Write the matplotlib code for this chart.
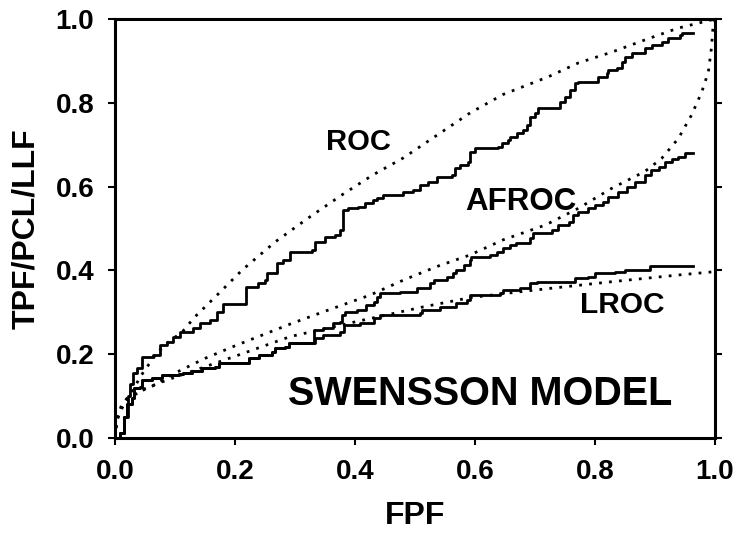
import matplotlib
matplotlib.use("Agg")
import matplotlib.pyplot as plt

plt.rcParams['font.family'] = ['Liberation Sans', 'DejaVu Sans']
plt.rcParams['font.weight'] = 'bold'

# empirical ROC (staircase, step at each x)
roc_x = [0, 0.008, 0.015, 0.022, 0.025, 0.03, 0.037, 0.045, 0.063, 0.075, 0.087, 0.097,
         0.108, 0.13, 0.142, 0.158, 0.17, 0.18, 0.218, 0.238, 0.25, 0.253, 0.27, 0.28,
         0.292, 0.328, 0.333, 0.35, 0.367, 0.375, 0.38, 0.388, 0.405, 0.417, 0.43, 0.437,
         0.447, 0.48, 0.497, 0.508, 0.522, 0.537, 0.562, 0.567, 0.575, 0.588, 0.592, 0.60,
         0.638, 0.645, 0.655, 0.658, 0.67, 0.68, 0.687, 0.692, 0.70, 0.705, 0.742, 0.75,
         0.758, 0.767, 0.772, 0.805, 0.82, 0.822, 0.837, 0.845, 0.85, 0.862, 0.883, 0.895,
         0.912, 0.922, 0.942, 0.945, 0.963]
roc_y = [0, 0.012, 0.05, 0.10, 0.13, 0.155, 0.167, 0.193, 0.198, 0.222, 0.229, 0.241,
         0.253, 0.262, 0.274, 0.282, 0.30, 0.32, 0.36, 0.37, 0.377, 0.394, 0.418, 0.425,
         0.444, 0.449, 0.468, 0.48, 0.484, 0.496, 0.544, 0.549, 0.551, 0.561, 0.568, 0.573,
         0.58, 0.587, 0.592, 0.604, 0.611, 0.623, 0.628, 0.644, 0.652, 0.659, 0.683, 0.692,
         0.695, 0.704, 0.711, 0.718, 0.727, 0.735, 0.747, 0.766, 0.776, 0.788, 0.802, 0.814,
         0.831, 0.847, 0.85, 0.862, 0.871, 0.878, 0.883, 0.897, 0.909, 0.919, 0.931, 0.938,
         0.945, 0.955, 0.962, 0.967, 0.967]

# AFROC and LROC share the low-FPF part
low_x = [0, 0.008, 0.015, 0.02, 0.028, 0.031, 0.042, 0.045, 0.062, 0.078, 0.106, 0.114,
         0.128, 0.145, 0.167, 0.173, 0.223, 0.24, 0.262, 0.267, 0.284, 0.29]
low_y = [0, 0.012, 0.05, 0.08, 0.095, 0.119, 0.122, 0.138, 0.144, 0.150, 0.152, 0.156,
         0.16, 0.166, 0.17, 0.178, 0.19, 0.198, 0.206, 0.214, 0.218, 0.227]

afroc_x = [0.331, 0.347, 0.364, 0.375, 0.378, 0.383, 0.403, 0.419, 0.431, 0.436, 0.442,
           0.475, 0.503, 0.525, 0.531, 0.553, 0.564, 0.569, 0.581, 0.592, 0.594, 0.625,
           0.636, 0.647, 0.658, 0.669, 0.692, 0.697, 0.728, 0.739, 0.756, 0.764, 0.772,
           0.789, 0.8, 0.814, 0.822, 0.839, 0.853, 0.867, 0.883, 0.894, 0.906, 0.917,
           0.928, 0.939, 0.95, 0.964]
afroc_y = [0.258, 0.262, 0.274, 0.278, 0.294, 0.301, 0.305, 0.317, 0.325, 0.337, 0.345,
           0.349, 0.357, 0.369, 0.377, 0.385, 0.393, 0.401, 0.413, 0.425, 0.433, 0.437,
           0.445, 0.453, 0.461, 0.465, 0.477, 0.489, 0.496, 0.508, 0.516, 0.532, 0.540,
           0.548, 0.556, 0.564, 0.576, 0.588, 0.6, 0.612, 0.628, 0.64, 0.647, 0.659,
           0.667, 0.671, 0.679, 0.679]

lroc_x = [0.333, 0.347, 0.375, 0.381, 0.408, 0.431, 0.442, 0.508, 0.511, 0.542, 0.569,
          0.586, 0.592, 0.642, 0.647, 0.675, 0.692, 0.703, 0.767, 0.789, 0.8, 0.833,
          0.85, 0.892, 0.964]
lroc_y = [0.238, 0.246, 0.254, 0.27, 0.274, 0.286, 0.294, 0.298, 0.305, 0.313, 0.321,
          0.329, 0.341, 0.345, 0.353, 0.357, 0.369, 0.373, 0.381, 0.385, 0.393, 0.397,
          0.401, 0.411, 0.411]

# fitted curves (dotted)
roc_fit_x = [0, 0.003, 0.012, 0.018, 0.033, 0.042, 0.058, 0.07, 0.087, 0.112, 0.133, 0.153,
             0.175, 0.212, 0.267, 0.322, 0.378, 0.43, 0.48, 0.537, 0.592, 0.647, 0.722,
             0.772, 0.828, 0.883, 0.938, 1.0]
roc_fit_y = [0, 0.043, 0.072, 0.086, 0.122, 0.146, 0.179, 0.203, 0.227, 0.253, 0.289, 0.317,
             0.348, 0.401, 0.468, 0.525, 0.58, 0.628, 0.668, 0.723, 0.776, 0.82, 0.862,
             0.895, 0.921, 0.95, 0.978, 1.0]

afroc_fit_x = [0, 0.003, 0.01, 0.02, 0.04, 0.064, 0.1, 0.15, 0.2, 0.292, 0.347, 0.425,
               0.481, 0.536, 0.592, 0.647, 0.717, 0.772, 0.828, 0.883, 0.911, 0.939,
               0.961, 0.978, 0.989, 0.994, 0.997, 1.0]
afroc_fit_y = [0, 0.045, 0.075, 0.095, 0.11, 0.125, 0.155, 0.19, 0.22, 0.272, 0.301, 0.341,
               0.377, 0.409, 0.437, 0.473, 0.508, 0.548, 0.596, 0.636, 0.667, 0.715,
               0.771, 0.826, 0.874, 0.93, 0.986, 1.0]

lroc_fit_x = [0, 0.003, 0.01, 0.02, 0.035, 0.05, 0.075, 0.1, 0.15, 0.2, 0.292, 0.403,
              0.514, 0.592, 0.675, 0.725, 0.828, 0.939, 1.0]
lroc_fit_y = [0, 0.04, 0.07, 0.09, 0.105, 0.118, 0.132, 0.145, 0.17, 0.195, 0.242, 0.278,
              0.313, 0.335, 0.349, 0.357, 0.373, 0.389, 0.397]

ticks = [0.0, 0.2, 0.4, 0.6, 0.8, 1.0]
tick_labels = ['0.0', '0.2', '0.4', '0.6', '0.8', '1.0']

fig = plt.figure(figsize=(7.44, 5.43), dpi=100)
ax = fig.add_axes([0.1546, 0.1934, 0.8064, 0.7716])

dot = dict(color='black', linewidth=2.0, linestyle=(0, (1, 2.6)))
ax.plot(roc_fit_x, roc_fit_y, **dot)
ax.plot(afroc_fit_x, afroc_fit_y, **dot)
ax.plot(lroc_fit_x, lroc_fit_y, **dot)

ax.step(roc_x, roc_y, where='post', color='black', linewidth=2)
ax.step(low_x + afroc_x, low_y + afroc_y, where='post', color='black', linewidth=2)
ax.step(low_x + lroc_x, low_y + lroc_y, where='post', color='black', linewidth=2)

ax.text(0.405, 0.706, 'ROC', fontsize=21, fontweight='bold', ha='center', va='center')
ax.text(0.677, 0.563, 'AFROC', fontsize=22.5, fontweight='bold', ha='center', va='center')
ax.text(0.845, 0.317, 'LROC', fontsize=21.5, fontweight='bold', ha='center', va='center')
ax.text(0.608, 0.105, 'SWENSSON MODEL', fontsize=28.5, fontweight='bold',
        ha='center', va='center')

ax.set_xlim(0, 1)
ax.set_ylim(0, 1)
ax.set_xticks(ticks)
ax.set_xticklabels(tick_labels)
ax.set_yticks(ticks)
ax.set_yticklabels(tick_labels)
ax.tick_params(axis='both', direction='out', length=5, width=1.5, labelsize=20, pad=10)
ax.tick_params(axis='y', right=True)
for lab in ax.get_xticklabels() + ax.get_yticklabels():
    lab.set_fontweight('bold')
for s in ax.spines.values():
    s.set_linewidth(2.2)

ax.set_xlabel('FPF', fontsize=23, fontweight='bold', labelpad=12)
ax.set_ylabel('TPF/PCL/LLF', fontsize=23, fontweight='bold', labelpad=10)

fig.savefig('out.png', dpi=100)
